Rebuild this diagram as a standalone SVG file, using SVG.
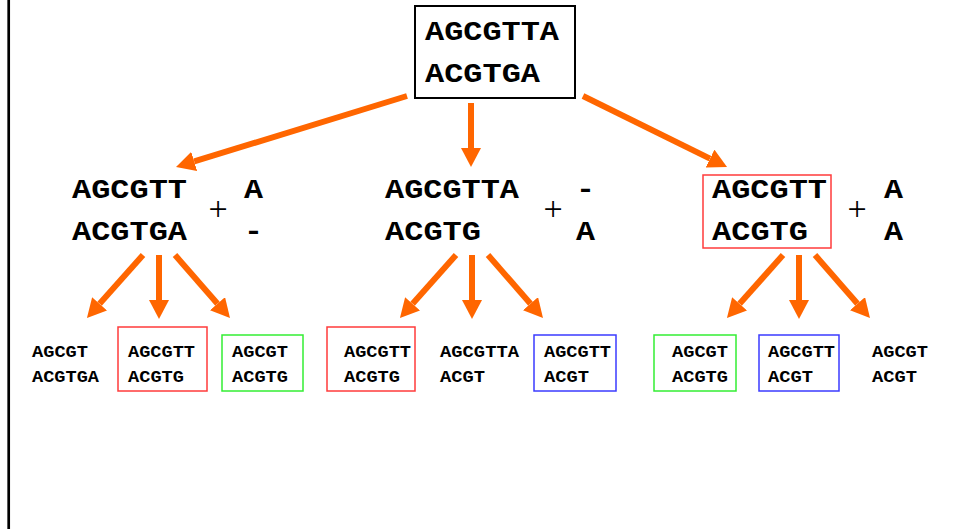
<svg xmlns="http://www.w3.org/2000/svg" width="954" height="529" viewBox="0 0 954 529">
<defs>
<marker id="ah" markerUnits="userSpaceOnUse" viewBox="0 0 19 20" markerWidth="19" markerHeight="20" refX="0" refY="10" orient="auto">
<path d="M0,0 L19,10 L0,20 Z" fill="#FF6600"/>
</marker>
<style>
.seq{font-family:"Liberation Mono","Courier New",monospace;font-weight:bold;fill:#000}
.big{font-size:27px}
.small{font-size:17px}
.plus{font-family:"Liberation Serif","Times New Roman",serif;font-size:34px;fill:#000;text-anchor:middle}
.arr{stroke:#FF6600;stroke-width:6;fill:none;marker-end:url(#ah)}
.red{fill:none;stroke:#FF3B3B;stroke-width:1.5}
.green{fill:none;stroke:#33EE33;stroke-width:1.5}
.blue{fill:none;stroke:#3B3BFF;stroke-width:1.5}
</style>
</defs>
<rect width="954" height="529" fill="#fff"/>
<line x1="8.7" y1="0" x2="8.7" y2="529" stroke="#000" stroke-width="2.7"/>

<g id="connectors">
<line class="arr" x1="407" y1="96" x2="194.2" y2="161.4"/>
<line class="arr" x1="471" y1="103" x2="471" y2="148"/>
<line class="arr" x1="583" y1="96" x2="710" y2="158.6"/>

<line class="arr" x1="143" y1="255" x2="99.6" y2="303.8"/>
<line class="arr" x1="159" y1="255" x2="159" y2="300"/>
<line class="arr" x1="175" y1="255" x2="217.5" y2="303.7"/>

<line class="arr" x1="456" y1="255" x2="412.6" y2="303.8"/>
<line class="arr" x1="472" y1="255" x2="472" y2="300"/>
<line class="arr" x1="488" y1="255" x2="530.5" y2="303.7"/>

<line class="arr" x1="783" y1="255" x2="739.6" y2="303.8"/>
<line class="arr" x1="799" y1="255" x2="799" y2="300"/>
<line class="arr" x1="815" y1="255" x2="857.5" y2="303.7"/>
</g>

<g id="root">
<rect x="415" y="6" width="160" height="92" fill="#fff" stroke="#000" stroke-width="2"/>
<text class="seq big" x="425" y="40" textLength="134" lengthAdjust="spacingAndGlyphs">AGCGTTA</text>
<text class="seq big" x="425" y="82" textLength="115" lengthAdjust="spacingAndGlyphs">ACGTGA</text>
</g>

<g id="mid-left">
<text class="seq big" x="72" y="198" textLength="115" lengthAdjust="spacingAndGlyphs">AGCGTT</text>
<text class="seq big" x="72" y="240" textLength="115" lengthAdjust="spacingAndGlyphs">ACGTGA</text>
<text class="plus" x="218" y="220">+</text>
<text class="seq big" x="244" y="198" textLength="19" lengthAdjust="spacingAndGlyphs">A</text>
<text class="seq big" x="244" y="240" textLength="19" lengthAdjust="spacingAndGlyphs">-</text>
</g>

<g id="mid-center">
<text class="seq big" x="385" y="198" textLength="134" lengthAdjust="spacingAndGlyphs">AGCGTTA</text>
<text class="seq big" x="385" y="240" textLength="96" lengthAdjust="spacingAndGlyphs">ACGTG</text>
<text class="plus" x="553" y="220">+</text>
<text class="seq big" x="576" y="198" textLength="19" lengthAdjust="spacingAndGlyphs">-</text>
<text class="seq big" x="576" y="240" textLength="19" lengthAdjust="spacingAndGlyphs">A</text>
</g>

<g id="mid-right">
<rect class="red" x="703" y="175" width="128" height="73"/>
<text class="seq big" x="712" y="198" textLength="115" lengthAdjust="spacingAndGlyphs">AGCGTT</text>
<text class="seq big" x="712" y="240" textLength="96" lengthAdjust="spacingAndGlyphs">ACGTG</text>
<text class="plus" x="857" y="220">+</text>
<text class="seq big" x="884" y="198" textLength="19" lengthAdjust="spacingAndGlyphs">A</text>
<text class="seq big" x="884" y="240" textLength="19" lengthAdjust="spacingAndGlyphs">A</text>
</g>

<g id="leaf1">
<text class="seq small" x="32" y="357" textLength="56" lengthAdjust="spacingAndGlyphs">AGCGT</text>
<text class="seq small" x="32" y="382" textLength="67" lengthAdjust="spacingAndGlyphs">ACGTGA</text>
</g>
<g id="leaf2">
<rect class="red" x="118" y="327" width="89" height="64"/>
<text class="seq small" x="128" y="357" textLength="67" lengthAdjust="spacingAndGlyphs">AGCGTT</text>
<text class="seq small" x="128" y="382" textLength="56" lengthAdjust="spacingAndGlyphs">ACGTG</text>
</g>
<g id="leaf3">
<rect class="green" x="222" y="335" width="81" height="56"/>
<text class="seq small" x="232" y="357" textLength="56" lengthAdjust="spacingAndGlyphs">AGCGT</text>
<text class="seq small" x="232" y="382" textLength="56" lengthAdjust="spacingAndGlyphs">ACGTG</text>
</g>
<g id="leaf4">
<rect class="red" x="327" y="327" width="88" height="64"/>
<text class="seq small" x="344" y="357" textLength="67" lengthAdjust="spacingAndGlyphs">AGCGTT</text>
<text class="seq small" x="344" y="382" textLength="56" lengthAdjust="spacingAndGlyphs">ACGTG</text>
</g>
<g id="leaf5">
<text class="seq small" x="440" y="357" textLength="79" lengthAdjust="spacingAndGlyphs">AGCGTTA</text>
<text class="seq small" x="440" y="382" textLength="45" lengthAdjust="spacingAndGlyphs">ACGT</text>
</g>
<g id="leaf6">
<rect class="blue" x="534" y="335" width="82" height="56"/>
<text class="seq small" x="544" y="357" textLength="67" lengthAdjust="spacingAndGlyphs">AGCGTT</text>
<text class="seq small" x="544" y="382" textLength="45" lengthAdjust="spacingAndGlyphs">ACGT</text>
</g>
<g id="leaf7">
<rect class="green" x="654" y="335" width="82" height="56"/>
<text class="seq small" x="672" y="357" textLength="56" lengthAdjust="spacingAndGlyphs">AGCGT</text>
<text class="seq small" x="672" y="382" textLength="56" lengthAdjust="spacingAndGlyphs">ACGTG</text>
</g>
<g id="leaf8">
<rect class="blue" x="759" y="335" width="80" height="56"/>
<text class="seq small" x="768" y="357" textLength="67" lengthAdjust="spacingAndGlyphs">AGCGTT</text>
<text class="seq small" x="768" y="382" textLength="45" lengthAdjust="spacingAndGlyphs">ACGT</text>
</g>
<g id="leaf9">
<text class="seq small" x="872" y="357" textLength="56" lengthAdjust="spacingAndGlyphs">AGCGT</text>
<text class="seq small" x="872" y="382" textLength="45" lengthAdjust="spacingAndGlyphs">ACGT</text>
</g>
</svg>
